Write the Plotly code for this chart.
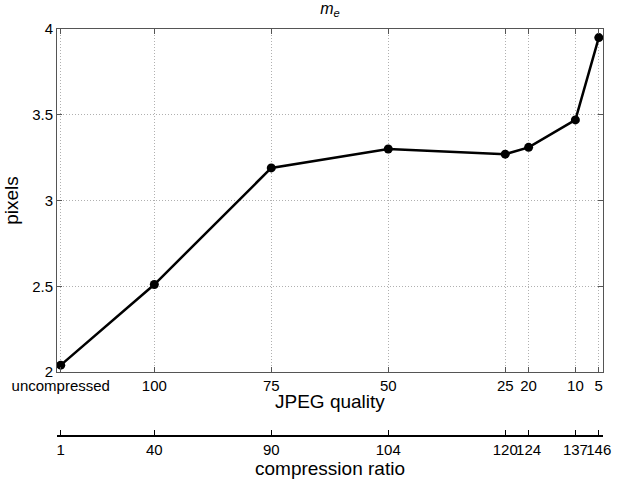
import plotly.graph_objects as go

# JPEG quality settings (x position = quality, "uncompressed" placed at 120)
quality_pos = [120, 100, 75, 50, 25, 20, 10, 5]
quality_labels = ["uncompressed", "100", "75", "50", "25", "20", "10", "5"]
compression_ratio = ["1", "40", "90", "104", "120", "124", "137", "146"]
m_e_pixels = [2.04, 2.51, 3.19, 3.30, 3.27, 3.31, 3.47, 3.95]

y_ticks = [2, 2.5, 3, 3.5, 4]
y_ticklabels = ["2", "2.5", "3", "3.5", "4"]

xrange = [120.8, 4.1]
font_family = "Liberation Sans, Arial, sans-serif"

fig = go.Figure()
fig.add_trace(go.Scatter(
    x=quality_pos, y=m_e_pixels, mode="lines+markers",
    line=dict(color="black", width=2.5),
    marker=dict(color="black", size=9, symbol="circle"),
    showlegend=False, xaxis="x", yaxis="y",
))
# invisible trace to activate second axis
fig.add_trace(go.Scatter(
    x=quality_pos, y=m_e_pixels, mode="markers", marker=dict(opacity=0),
    showlegend=False, hoverinfo="skip", xaxis="x2", yaxis="y",
))

axis_common = dict(
    showline=True, linecolor="#555", linewidth=1, mirror="ticks",
    ticks="inside", ticklen=5, tickcolor="#555",
    showgrid=True, gridcolor="#b0b0b0", griddash="1px,2px", gridwidth=1,
    zeroline=False, automargin=False,
    tickfont=dict(family=font_family, size=15, color="black"),
)

fig.update_layout(
    width=619, height=479,
    margin=dict(l=57, r=16, t=29, b=35),
    paper_bgcolor="white", plot_bgcolor="white",
    font=dict(family=font_family, color="black"),
    title=dict(text="<i>m</i><sub><i>e</i></sub>", x=0.5, xref="paper",
               y=0.995, yref="container", yanchor="top",
               font=dict(family=font_family, size=16, color="black")),
    xaxis=dict(
        range=xrange, tickmode="array", tickvals=quality_pos, ticktext=quality_labels,
        tickangle=0, anchor="y",
        **axis_common,
    ),
    yaxis=dict(
        range=[2, 4], domain=[0.1735, 1], tickmode="array",
        tickvals=y_ticks, ticktext=y_ticklabels,
        title=dict(text="pixels", standoff=8,
                   font=dict(family=font_family, size=19, color="black")),
        **axis_common,
    ),
    xaxis2=dict(
        range=xrange, overlaying="x", anchor="free", position=0.0193, side="bottom",
        tickmode="array", tickvals=quality_pos, ticktext=compression_ratio, tickangle=0,
        showline=True, linecolor="black", linewidth=1.5, ticks="inside", ticklen=5,
        tickcolor="black", showgrid=False, zeroline=False, automargin=False,
        tickfont=dict(family=font_family, size=15, color="black"),
        title=dict(text="compression ratio", standoff=0,
                   font=dict(family=font_family, size=19, color="black")),
    ),
    annotations=[dict(
        text="JPEG quality", x=0.5, xref="paper", y=0.1036, yref="paper",
        xanchor="center", yanchor="middle", showarrow=False,
        font=dict(family=font_family, size=19, color="black"),
    )],
)

fig.write_html("out.html", config={"displayModeBar": False},
               post_script="document.body.style.margin='0';")
